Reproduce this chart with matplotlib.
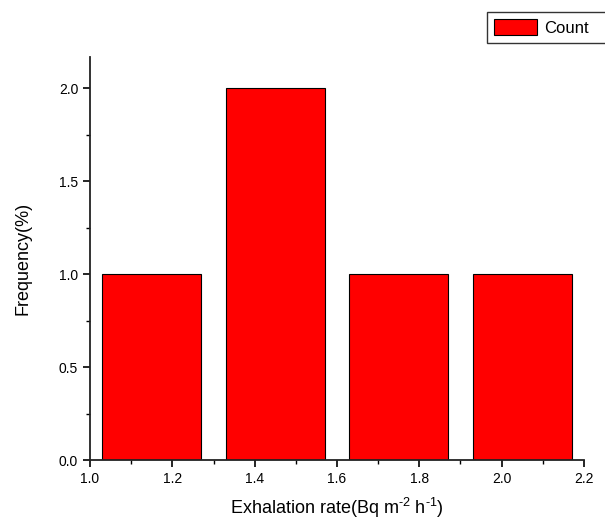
import matplotlib
matplotlib.use("Agg")
import matplotlib.pyplot as plt
from matplotlib.ticker import MultipleLocator

# histogram bins (centers) and counts
bin_centers = [1.15, 1.45, 1.75, 2.05]
counts = [1, 2, 1, 1]
bin_width = 0.24

plt.rcParams['font.family'] = ['Liberation Sans', 'DejaVu Sans']
plt.rcParams['mathtext.fontset'] = 'custom'
plt.rcParams['mathtext.rm'] = 'Liberation Sans'

fig = plt.figure(figsize=(6.05, 5.25), dpi=100)
ax = fig.add_axes([90 / 605, 1 - 460 / 525, 494 / 605, 403 / 525])

ax.bar(bin_centers, counts, width=bin_width, color='#ff0000',
       edgecolor='black', linewidth=0.8, label='Count')

ax.set_xlim(1.0, 2.2)
ax.set_ylim(0, 2.167)
ax.xaxis.set_major_locator(MultipleLocator(0.2))
ax.xaxis.set_minor_locator(MultipleLocator(0.1))
ax.yaxis.set_major_locator(MultipleLocator(0.5))
ax.yaxis.set_minor_locator(MultipleLocator(0.25))
ax.xaxis.set_major_formatter(plt.FormatStrFormatter('%.1f'))
ax.yaxis.set_major_formatter(plt.FormatStrFormatter('%.1f'))

for s in ['top', 'right']:
    ax.spines[s].set_visible(False)
for s in ['left', 'bottom']:
    ax.spines[s].set_linewidth(1.3)
    ax.spines[s].set_color('#222222')

ax.tick_params(which='major', direction='out', length=5, width=1.2, labelsize=10)
ax.tick_params(which='minor', direction='out', length=3, width=1.0)

ax.set_xlabel(r'Exhalation rate(Bq m$^{\text{-2}}$ h$^{\text{-1}}$)', fontsize=13, labelpad=7)
ax.set_ylabel('Frequency(%)', fontsize=13, labelpad=20)

leg = fig.legend(loc='upper left', bbox_to_anchor=(487 / 605, 1 - 12 / 525, 0.3, 0.0),
                 mode='expand', fancybox=False, edgecolor='black', fontsize=12,
                 handlelength=2.6, handleheight=1.1, handletextpad=0.4,
                 borderpad=0.42, borderaxespad=0)
leg.get_frame().set_linewidth(1.0)

fig.savefig('out.png', dpi=100)
